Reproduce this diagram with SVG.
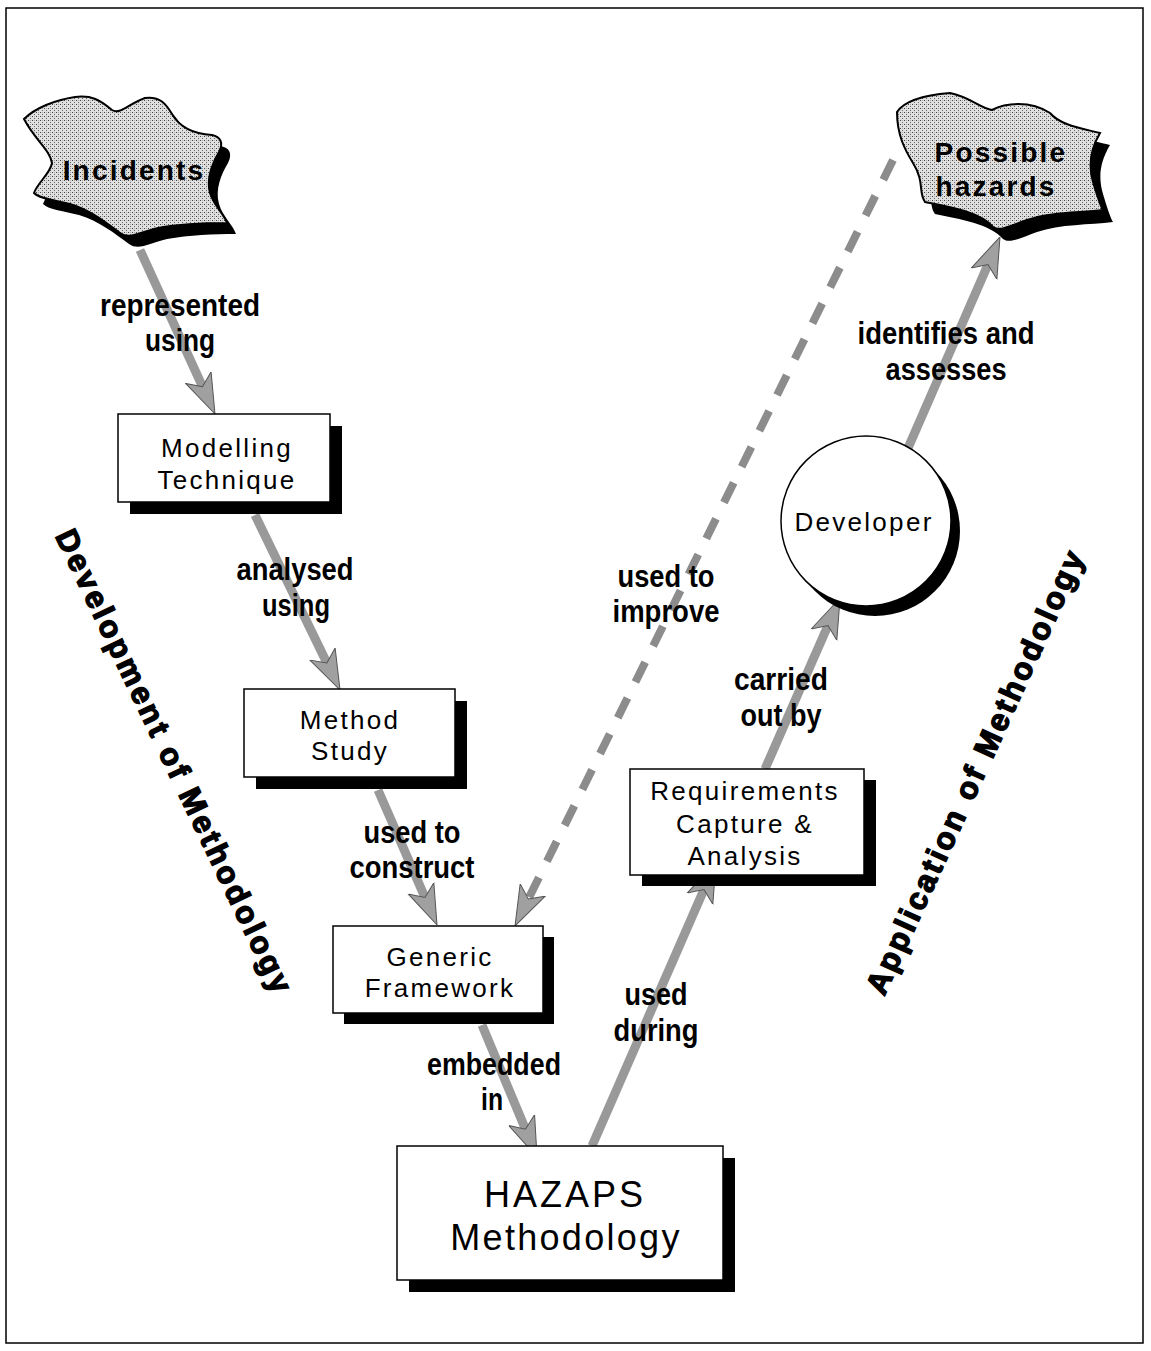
<svg xmlns="http://www.w3.org/2000/svg" width="1151" height="1351" viewBox="0 0 1151 1351">
<defs>
<pattern id="stip" width="4" height="4" patternUnits="userSpaceOnUse">
<rect width="4" height="4" fill="#e0e0e0"/>
<rect x="0" y="0" width="1" height="1" fill="#444"/>
<rect x="2" y="2" width="1" height="1" fill="#666"/>
<rect x="2" y="0" width="1" height="1" fill="#aaa"/>
</pattern>
<marker id="ah" markerUnits="userSpaceOnUse" viewBox="0 0 40 30" refX="10" refY="15" markerWidth="40" markerHeight="30" orient="auto">
<path d="M0,1 L40,15 L0,29 L10,15 Z" fill="#a0a0a0" stroke="#555" stroke-width="1"/>
</marker>
</defs>
<style>
.box{fill:#fff;stroke:#000;stroke-width:1.5}
.sh{fill:#000}
.nt{font-family:"Liberation Sans",Arial,sans-serif;font-size:26px;letter-spacing:2.3px;text-anchor:middle;fill:#000}
.ct{font-family:"Liberation Sans",Arial,sans-serif;font-size:28px;font-weight:bold;letter-spacing:2.2px;text-anchor:middle;fill:#000}
.lb{font-family:"Liberation Sans",Arial,sans-serif;font-size:32px;font-weight:bold;text-anchor:middle;fill:#000}
.side{font-family:"Liberation Sans",Arial,sans-serif;font-size:31px;font-weight:bold;letter-spacing:3px;text-anchor:middle;fill:#000;stroke:#000;stroke-width:1.4}
.cn{fill:none;stroke:#999;stroke-width:9;marker-end:url(#ah)}
.dash{fill:none;stroke:#8c8c8c;stroke-width:8;stroke-dasharray:22 18;marker-end:url(#ah)}
</style>
<rect width="1151" height="1351" fill="#fff"/>
<rect x="6" y="8" width="1137" height="1335" fill="none" stroke="#000" stroke-width="1.5"/>

<g id="connectors">
<path class="cn" d="M140,250 L202.5,386.7"/>
<path class="cn" d="M255,515 L326.9,663"/>
<path class="cn" d="M378,790 L425,897.5"/>
<path class="cn" d="M482,1025 L525.5,1129.3"/>
<path class="cn" d="M592,1146 L704,889.5"/>
<path class="cn" d="M765,769 L828,625.5"/>
<path class="cn" d="M905,455 L988,264.5"/>
<path class="dash" d="M893,160 L528.3,899"/>
</g>

<g id="labels">
<text class="lb" x="180" y="316" textLength="160" lengthAdjust="spacingAndGlyphs">represented</text>
<text class="lb" x="180" y="351" textLength="70" lengthAdjust="spacingAndGlyphs">using</text>
<text class="lb" x="295" y="580" textLength="117" lengthAdjust="spacingAndGlyphs">analysed</text>
<text class="lb" x="296" y="616" textLength="68" lengthAdjust="spacingAndGlyphs">using</text>
<text class="lb" x="412" y="843" textLength="97" lengthAdjust="spacingAndGlyphs">used to</text>
<text class="lb" x="412" y="878" textLength="125" lengthAdjust="spacingAndGlyphs">construct</text>
<text class="lb" x="494" y="1075" textLength="134" lengthAdjust="spacingAndGlyphs">embedded</text>
<text class="lb" x="492" y="1110" textLength="22" lengthAdjust="spacingAndGlyphs">in</text>
<text class="lb" x="656" y="1005" textLength="63" lengthAdjust="spacingAndGlyphs">used</text>
<text class="lb" x="656" y="1041" textLength="85" lengthAdjust="spacingAndGlyphs">during</text>
<text class="lb" x="781" y="690" textLength="94" lengthAdjust="spacingAndGlyphs">carried</text>
<text class="lb" x="781" y="726" textLength="81" lengthAdjust="spacingAndGlyphs">out by</text>
<text class="lb" x="946" y="344" textLength="177" lengthAdjust="spacingAndGlyphs">identifies and</text>
<text class="lb" x="946" y="380" textLength="121" lengthAdjust="spacingAndGlyphs">assesses</text>
<text class="lb" x="666" y="587" textLength="97" lengthAdjust="spacingAndGlyphs">used to</text>
<text class="lb" x="666" y="622" textLength="107" lengthAdjust="spacingAndGlyphs">improve</text>
</g>

<g id="incidents">
<path class="sh" transform="translate(9,11)" d="M24,119 C35,108 55,100 75,97 C92,95 100,100 112,110 C120,115 128,104 145,98 C160,96 166,104 172,114 C180,128 195,134 212,135 C220,137 224,142 219,152 C212,164 206,178 210,193 C214,206 224,214 227,223 C205,223 180,224 158,228 C140,232 130,240 120,233 C105,222 90,210 70,204 C55,200 40,199 34,193 C38,182 50,174 52,163 C50,150 35,140 24,119 Z"/>
<path fill="url(#stip)" stroke="#000" stroke-width="2" d="M24,119 C35,108 55,100 75,97 C92,95 100,100 112,110 C120,115 128,104 145,98 C160,96 166,104 172,114 C180,128 195,134 212,135 C220,137 224,142 219,152 C212,164 206,178 210,193 C214,206 224,214 227,223 C205,223 180,224 158,228 C140,232 130,240 120,233 C105,222 90,210 70,204 C55,200 40,199 34,193 C38,182 50,174 52,163 C50,150 35,140 24,119 Z"/>
<text class="ct" x="134" y="180">Incidents</text>
</g>

<g id="hazards">
<path class="sh" transform="translate(10,12)" d="M897,112 C905,100 925,95 950,93 C970,97 980,108 992,110 C1005,103 1030,100 1050,113 C1060,125 1080,128 1100,133 C1090,150 1088,165 1093,182 C1097,195 1100,205 1103,210 C1080,213 1050,212 1027,220 C1010,226 1000,232 993,227 C980,212 950,207 925,202 C918,192 925,182 913,163 C905,150 897,135 897,112 Z"/>
<path fill="url(#stip)" stroke="#000" stroke-width="2" d="M897,112 C905,100 925,95 950,93 C970,97 980,108 992,110 C1005,103 1030,100 1050,113 C1060,125 1080,128 1100,133 C1090,150 1088,165 1093,182 C1097,195 1100,205 1103,210 C1080,213 1050,212 1027,220 C1010,226 1000,232 993,227 C980,212 950,207 925,202 C918,192 925,182 913,163 C905,150 897,135 897,112 Z"/>
<text class="ct" x="1001" y="162">Possible</text>
<text class="ct" x="996" y="196">hazards</text>
</g>

<g id="modelling">
<rect class="sh" x="130" y="426" width="212" height="88"/>
<rect class="box" x="118" y="414" width="212" height="88"/>
<text class="nt" x="227" y="457">Modelling</text>
<text class="nt" x="227" y="489">Technique</text>
</g>

<g id="method">
<rect class="sh" x="256" y="701" width="211" height="88"/>
<rect class="box" x="244" y="689" width="211" height="88"/>
<text class="nt" x="350" y="729">Method</text>
<text class="nt" x="350" y="760">Study</text>
</g>

<g id="generic">
<rect class="sh" x="344" y="937" width="210" height="87"/>
<rect class="box" x="333" y="926" width="210" height="87"/>
<text class="nt" x="440" y="966">Generic</text>
<text class="nt" x="440" y="997">Framework</text>
</g>

<g id="hazaps">
<rect class="sh" x="409" y="1158" width="326" height="134"/>
<rect class="box" x="397" y="1146" width="326" height="134"/>
<text class="nt" x="565" y="1207" style="font-size:36px;letter-spacing:3px">HAZAPS</text>
<text class="nt" x="566" y="1250" style="font-size:36px;letter-spacing:2.3px">Methodology</text>
</g>

<g id="requirements">
<rect class="sh" x="642" y="780" width="234" height="106"/>
<rect class="box" x="630" y="769" width="234" height="106"/>
<text class="nt" x="745" y="800">Requirements</text>
<text class="nt" x="745" y="833">Capture &amp;</text>
<text class="nt" x="745" y="865">Analysis</text>
</g>

<g id="developer">
<circle class="sh" cx="875" cy="531" r="85"/>
<circle class="box" cx="866" cy="521" r="85"/>
<text class="nt" x="864" y="531">Developer</text>
</g>

<g id="side-labels">
<text class="side" transform="translate(175,762) rotate(64.5)" x="0" y="11">Development of Methodology</text>
<text class="side" transform="translate(975,771) rotate(-65.5)" x="0" y="11">Application of Methodology</text>
</g>
</svg>
